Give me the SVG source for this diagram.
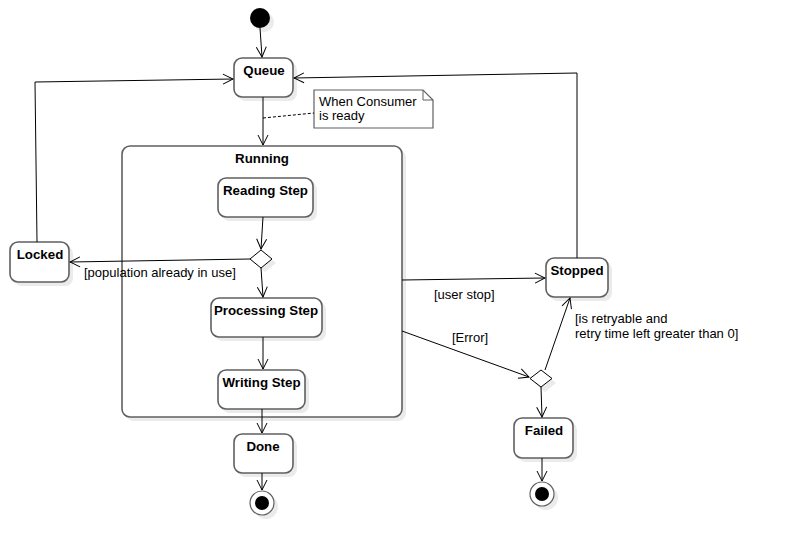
<svg xmlns="http://www.w3.org/2000/svg" width="786" height="555" viewBox="0 0 786 555">
<defs>
<style>
.shadow{fill:#ebebeb;stroke:none}
.node{fill:#fff;stroke:#606060;stroke-width:1.6}
.title{font-family:"Liberation Sans",Arial,sans-serif;font-size:13.3px;font-weight:bold;fill:#000;text-anchor:middle}
.lbl{font-family:"Liberation Sans",Arial,sans-serif;font-size:13px;fill:#000}
.edge{fill:none;stroke:#000;stroke-width:1}
.dec{fill:#fff;stroke:#000;stroke-width:1}
</style>
<marker id="arr" markerUnits="userSpaceOnUse" markerWidth="12" markerHeight="12" viewBox="0 0 12 12" refX="11" refY="6" orient="auto">
<path d="M1,1 L11,6 L1,11" fill="none" stroke="#000" stroke-width="1"/>
</marker>
</defs>
<rect width="786" height="555" fill="#fff"/>

<g id="initial">
<circle cx="264" cy="22" r="10" class="shadow"/>
<circle cx="260" cy="18" r="10" fill="#000"/>
</g>

<g id="running">
<rect x="126" y="150" width="280" height="271" rx="8" class="shadow"/>
<rect x="122" y="146" width="280" height="271" rx="8" class="node"/>
<text x="262" y="163" class="title">Running</text>
</g>

<g id="queue">
<rect x="238" y="62" width="59" height="39" rx="8" class="shadow"/>
<rect x="234" y="58" width="59" height="39" rx="8" class="node"/>
<text x="264" y="75" class="title">Queue</text>
</g>

<g id="note">
<path d="M314,90 L423,90 L433,100 L433,128 L314,128 Z" fill="#fff" stroke="#606060" stroke-width="1.2"/>
<path d="M423,90 L423,100 L433,100" fill="none" stroke="#606060" stroke-width="1"/>
<text x="319" y="106" class="lbl">When Consumer</text>
<text x="319" y="120" class="lbl">is ready</text>
</g>

<g id="reading">
<rect x="222" y="182" width="95" height="39" rx="8" class="shadow"/>
<rect x="218" y="178" width="95" height="39" rx="8" class="node"/>
<text x="265.5" y="195" class="title">Reading Step</text>
</g>

<g id="decision1">
<path d="M265,254 L276,263 L265,272 L254,263 Z" class="shadow"/>
<path d="M261,250 L272,259 L261,268 L250,259 Z" class="dec"/>
</g>

<g id="locked">
<rect x="14" y="246" width="59" height="40" rx="8" class="shadow"/>
<rect x="10" y="242" width="59" height="40" rx="8" class="node"/>
<text x="40" y="259" class="title">Locked</text>
</g>

<g id="processing">
<rect x="215" y="302" width="111" height="39" rx="8" class="shadow"/>
<rect x="211" y="298" width="111" height="39" rx="8" class="node"/>
<text x="266" y="315" class="title">Processing Step</text>
</g>

<g id="writing">
<rect x="222" y="374" width="87" height="39" rx="8" class="shadow"/>
<rect x="218" y="370" width="87" height="39" rx="8" class="node"/>
<text x="261.5" y="387" class="title">Writing Step</text>
</g>

<g id="done">
<rect x="238" y="438" width="59" height="39" rx="8" class="shadow"/>
<rect x="234" y="434" width="59" height="39" rx="8" class="node"/>
<text x="263" y="451" class="title">Done</text>
</g>

<g id="final1">
<circle cx="266" cy="507" r="12" class="shadow"/>
<circle cx="262" cy="503" r="12" fill="#fff" stroke="#606060" stroke-width="1.2"/>
<circle cx="262" cy="503" r="7" fill="#000"/>
</g>

<g id="stopped">
<rect x="550" y="262" width="62" height="39" rx="8" class="shadow"/>
<rect x="546" y="258" width="62" height="39" rx="8" class="node"/>
<text x="577" y="275" class="title">Stopped</text>
</g>

<g id="decision2">
<path d="M545,374 L556,383 L545,392 L534,383 Z" class="shadow"/>
<path d="M541,370 L552,378.5 L541,387 L530,378.5 Z" class="dec"/>
</g>

<g id="failed">
<rect x="518" y="422" width="59" height="40" rx="8" class="shadow"/>
<rect x="514" y="418" width="59" height="40" rx="8" class="node"/>
<text x="544" y="435" class="title">Failed</text>
</g>

<g id="final2">
<circle cx="546" cy="498" r="12" class="shadow"/>
<circle cx="542" cy="494" r="12" fill="#fff" stroke="#606060" stroke-width="1.2"/>
<circle cx="542" cy="494" r="7" fill="#000"/>
</g>

<g id="connectors">
<path d="M260,28 L262,57" class="edge" marker-end="url(#arr)"/>
<path d="M263,97 L263,145" class="edge" marker-end="url(#arr)"/>
<path d="M263,118 L314,113" class="edge" stroke-dasharray="3,2"/>
<path d="M263,217 L261,249" class="edge" marker-end="url(#arr)"/>
<path d="M250,259 L70,262" class="edge" marker-end="url(#arr)"/>
<text x="84" y="277" class="lbl">[population already in use]</text>
<path d="M37,242 L35,82 L233,79" class="edge" marker-end="url(#arr)"/>
<path d="M261,268 L263,297" class="edge" marker-end="url(#arr)"/>
<path d="M263,337 L263,369" class="edge" marker-end="url(#arr)"/>
<path d="M262,409 L262,433" class="edge" marker-end="url(#arr)"/>
<path d="M262,473 L262,490" class="edge" marker-end="url(#arr)"/>
<path d="M402,280 L545,278" class="edge" marker-end="url(#arr)"/>
<text x="434" y="299" class="lbl">[user stop]</text>
<path d="M577,258 L577,73 L294,78" class="edge" marker-end="url(#arr)"/>
<path d="M402,331 L529,377" class="edge" marker-end="url(#arr)"/>
<text x="452" y="342" class="lbl">[Error]</text>
<path d="M545,370 L570,298" class="edge" marker-end="url(#arr)"/>
<text x="575" y="323" class="lbl">[is retryable and</text>
<text x="575" y="338" class="lbl">retry time left greater than 0]</text>
<path d="M541,387 L542,417" class="edge" marker-end="url(#arr)"/>
<path d="M542,458 L542,481" class="edge" marker-end="url(#arr)"/>
</g>
</svg>
